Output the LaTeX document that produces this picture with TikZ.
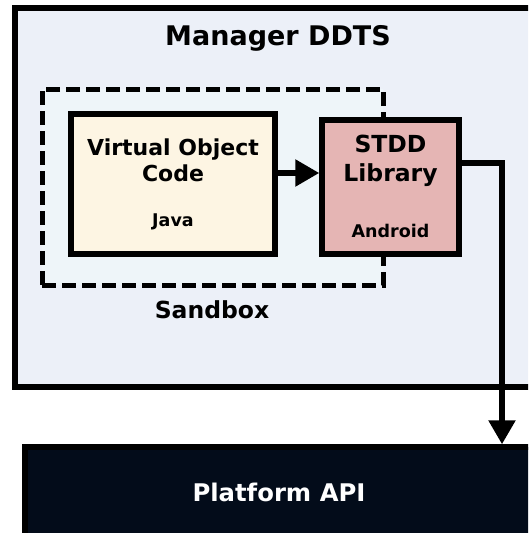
\documentclass[tikz,border=0pt]{standalone}
\usepackage{fontspec}
\setmainfont{DejaVu Sans}
\usetikzlibrary{arrows.meta,positioning}
\definecolor{mgrfill}{HTML}{ECF0F8}
\definecolor{sandfill}{HTML}{EEF5F9}
\definecolor{vocfill}{HTML}{FDF5E3}
\definecolor{libfill}{HTML}{E5B5B4}
\definecolor{apifill}{HTML}{030C1A}
\tikzset{
	box/.style 2 args={draw=black,line width=5.5pt,fill=#1,minimum width=#2,inner sep=0pt},
	big/.style={font=\fontsize{22}{26}\selectfont\bfseries,align=center},
	small/.style={font=\fontsize{17.5}{20}\selectfont\bfseries},
	conn/.style={line width=5.5pt,-{Triangle[length=24pt,width=26pt]}}
}
\begin{document}
\begin{tikzpicture}[x=1pt,y=-1pt]
	\useasboundingbox (0,0) rectangle (528,533);
	\clip (0,0) rectangle (528,533);

	\node [box={mgrfill}{545.5pt},line width=6pt,minimum height=379pt] (mgr) at (287.25,197.5) {};
	\node [font=\fontsize{27}{30}\selectfont\bfseries] (mgrlabel) at (278,38) {Manager DDTS};

	\node [box={sandfill}{341pt},line width=5pt,dash pattern=on 14pt off 6pt,minimum height=196pt] (sandbox) at (212.5,187) {};
	\node [font=\fontsize{23.5}{26}\selectfont\bfseries] (sandlabel) at (212,310) {Sandbox};

	\node [box={vocfill}{204pt},minimum height=140pt] (voc) at (173,184) {};
	\node [big] (voctext) at (173,160) {Virtual Object\\Code};
	\node [small] (java) at (173,222) {Java};

	\node [box={libfill}{137pt},minimum height=134pt] (lib) at (390.5,187) {};
	\node [big,font=\fontsize{23.5}{29}\selectfont\bfseries] (libtext) at (390.5,161) {STDD\\Library};
	\node [small] (android) at (390.5,231) {Android};

	\node [box={apifill}{535pt},minimum height=133pt] (api) at (292.5,513.5) {};
	\node [font=\fontsize{24.3}{27}\selectfont\bfseries,text=white] (apitext) at (279,492) {Platform API};

	\coordinate (col) at (502,0);
	\draw [conn] (voc.east |- 0,173) -- (lib.west |- 0,173);
	\draw [conn] ([yshift=24pt]lib.east) -| (api.north -| col);
\end{tikzpicture}
\end{document}
